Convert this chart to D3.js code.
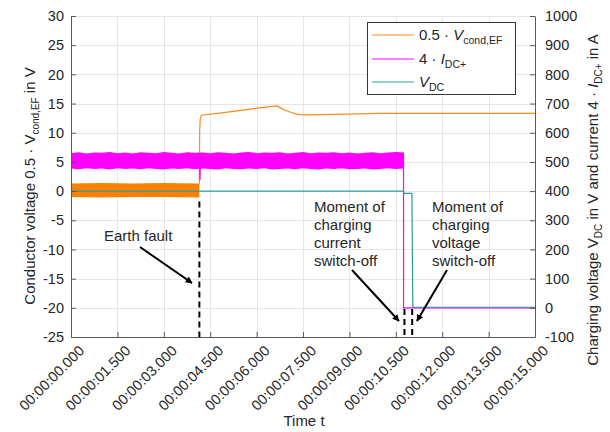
<!DOCTYPE html>
<html lang="en">
<head>
    <meta charset="UTF-8">
    <title>Earth fault</title>
    <script src="https://cdn.jsdelivr.net/npm/d3@7"></script>
    <style>
        body { margin: 0; background: #fff; }
        text { font-family: "Liberation Sans", Arial, sans-serif; fill: #262626; }
    </style>
</head>
<body>
<svg width="610" height="432"></svg>
<script>
    // ---- data ----
    var leftTicks = [30, 25, 20, 15, 10, 5, 0, -5, -10, -15, -20, -25];
    var rightTicks = [1000, 900, 800, 700, 600, 500, 400, 300, 200, 100, 0, -100];
    var xTicks = [0, 1.5, 3, 4.5, 6, 7.5, 9, 10.5, 12, 13.5, 15];
    var xTickLabels = ["00:00:00.000", "00:00:01.500", "00:00:03.000", "00:00:04.500", "00:00:06.000",
        "00:00:07.500", "00:00:09.000", "00:00:10.500", "00:00:12.000", "00:00:13.500", "00:00:15.000"];

    // 0.5*Vcond,EF noisy band before the fault (left axis, V)
    var orBandT = [0, 1, 2, 3, 4.15];
    var orBandHigh = [1.3, 1.4, 1.3, 1.4, 1.3];
    var orBandLow = [-1.0, -1.1, -1.0, -1.0, -1.1];
    // 0.5*Vcond,EF after the fault
    var orangeT = [4.15, 4.16, 4.18, 4.22, 5.0, 6.0, 6.66, 6.75, 6.9, 7.1, 7.3, 7.5, 8.5, 10, 15];
    var orangeV = [1.3, 10.4, 12.5, 13.0, 13.5, 14.2, 14.6, 14.3, 13.9, 13.5, 13.2, 13.05, 13.15, 13.3, 13.3];

    // 4*IDC+ noisy band (right axis, A), envelope every 0.25 s
    var magT = [0, 0.25, 0.5, 0.75, 1, 1.25, 1.5, 1.75, 2, 2.25, 2.5, 2.75, 3, 3.25, 3.5, 3.75,
        4, 4.25, 4.5, 4.75, 5, 5.25, 5.5, 5.75, 6, 6.25, 6.5, 6.75, 7, 7.25, 7.5, 7.75,
        8, 8.25, 8.5, 8.75, 9, 9.25, 9.5, 9.75, 10, 10.25, 10.5, 10.75];
    var magHigh = [530, 533, 529, 532, 531, 534, 530, 532, 529, 533, 531, 530, 534, 531, 529, 533,
        531, 532, 530, 533, 531, 529, 532, 534, 530, 532, 531, 533, 529, 531, 534, 530,
        532, 531, 533, 530, 532, 529, 531, 533, 530, 532, 534, 532];
    var magLow = [477, 475, 478, 476, 477, 474, 478, 476, 477, 475, 478, 476, 474, 477, 476, 478,
        475, 477, 476, 474, 478, 476, 475, 477, 476, 478, 474, 476, 477, 475, 478, 476,
        474, 477, 476, 478, 475, 476, 477, 474, 476, 478, 476, 477];
    var magSpikeT = [4.16, 4.17, 4.18];
    var magSpikeV = [478, 438, 478];
    var magDropT = [10.75, 10.75, 15];
    var magDropV = [532, 0, 0];

    // VDC (right axis, V)
    var tealT = [0, 10.75, 10.76, 11.02, 11.05, 15];
    var tealV = [400, 400, 392, 392, 2, 2];

    // dashed event markers
    var faultT = 4.15;
    var switchOffT = [10.78, 11.03];

    var svg = d3.select("svg");
    var margin = {left: 71, right: 535, top: 16, bottom: 337};

    var x = d3.scaleLinear().domain([0, 15]).range([margin.left, margin.right]);
    var yL = d3.scaleLinear().domain([-25, 30]).range([margin.bottom, margin.top]);
    var yR = d3.scaleLinear().domain([-100, 1000]).range([margin.bottom, margin.top]);

    var orange = "#ff8c1a", magenta = "#ff00ff", teal = "#2a9d9d";

    // grid
    var grid = svg.append("g").attr("stroke", "#e6e6e6").attr("stroke-width", 1);
    grid.selectAll(".h").data(leftTicks).enter().append("line")
        .attr("x1", margin.left).attr("x2", margin.right)
        .attr("y1", d => Math.round(yL(d)) + 0.5).attr("y2", d => Math.round(yL(d)) + 0.5);
    grid.selectAll(".v").data(xTicks).enter().append("line")
        .attr("y1", margin.top).attr("y2", margin.bottom)
        .attr("x1", d => Math.round(x(d)) + 0.5).attr("x2", d => Math.round(x(d)) + 0.5);

    // signals
    var plot = svg.append("g");
    var orArea = d3.area().x((d, i) => x(orBandT[i])).y0((d, i) => yL(orBandLow[i])).y1((d, i) => yL(orBandHigh[i]));
    plot.append("path").datum(orBandT).attr("d", orArea).attr("fill", "#ff8000");
    plot.append("path").datum(orangeT)
        .attr("d", d3.line().x((d, i) => x(orangeT[i])).y((d, i) => yL(orangeV[i])))
        .attr("fill", "none").attr("stroke", orange).attr("stroke-width", 1.2);

    var magArea = d3.area().x((d, i) => x(magT[i])).y0((d, i) => yR(magLow[i])).y1((d, i) => yR(magHigh[i]));
    plot.append("path").datum(magT).attr("d", magArea).attr("fill", magenta);
    plot.append("path").datum(magSpikeT)
        .attr("d", d3.line().x((d, i) => x(magSpikeT[i])).y((d, i) => yR(magSpikeV[i])))
        .attr("fill", "none").attr("stroke", magenta).attr("stroke-width", 1.2);
    plot.append("path").datum(magDropT)
        .attr("d", d3.line().x((d, i) => x(magDropT[i])).y((d, i) => yR(magDropV[i])))
        .attr("fill", "none").attr("stroke", magenta).attr("stroke-width", 1.2);

    plot.append("path").datum(tealT)
        .attr("d", d3.line().x((d, i) => x(tealT[i])).y((d, i) => yR(tealV[i])))
        .attr("fill", "none").attr("stroke", teal).attr("stroke-width", 1.2);

    // axes
    var axisColor = "#5a5a5a";
    var gL = svg.append("g").attr("transform", "translate(" + margin.left + ",0)")
        .call(d3.axisLeft(yL).tickValues(leftTicks).tickSizeInner(-5).tickSizeOuter(0).tickPadding(7).tickFormat(d => String(d)));
    var gR = svg.append("g").attr("transform", "translate(" + margin.right + ",0)")
        .call(d3.axisRight(yR).tickValues(rightTicks).tickSizeInner(-5).tickSizeOuter(0).tickPadding(10).tickFormat(d => String(d)));
    var gB = svg.append("g").attr("transform", "translate(0," + margin.bottom + ")")
        .call(d3.axisBottom(x).tickValues(xTicks).tickSizeInner(-5).tickSizeOuter(0).tickFormat((d, i) => xTickLabels[i]));
    [gL, gR, gB].forEach(function (g) {
        g.selectAll("path,line").attr("stroke", axisColor);
        g.selectAll("text").style("font-size", "14.5px").attr("fill", "#262626");
        g.attr("font-family", null).attr("font-size", null);
    });
    gB.selectAll("text")
        .attr("x", 0).attr("y", 0).attr("dy", "0.35em")
        .attr("text-anchor", "end")
        .attr("transform", "translate(10,11) rotate(-45)");

    // axis titles
    svg.append("text").attr("x", 304).attr("y", 426).attr("text-anchor", "middle")
        .style("font-size", "15px").text("Time t");

    var tl = svg.append("text").attr("transform", "translate(35,186) rotate(-90)")
        .attr("text-anchor", "middle").style("font-size", "15px");
    tl.append("tspan").text("Conductor voltage 0.5 · V");
    tl.append("tspan").attr("dy", 4).style("font-size", "10px").text("cond,EF");
    tl.append("tspan").attr("dy", -4).text(" in V");

    var tr = svg.append("text").attr("transform", "translate(598,200) rotate(-90)")
        .attr("text-anchor", "middle").style("font-size", "15px");
    tr.append("tspan").text("Charging voltage V");
    tr.append("tspan").attr("dy", 4).style("font-size", "10px").text("DC");
    tr.append("tspan").attr("dy", -4).text(" in V and current 4 · ");
    tr.append("tspan").style("font-style", "italic").text("I");
    tr.append("tspan").attr("dy", 4).style("font-size", "10px").text("DC+");
    tr.append("tspan").attr("dy", -4).text(" in A");

    // dashed markers
    var marks = svg.append("g").attr("stroke", "#000").attr("stroke-width", 2).attr("stroke-dasharray", "6,4");
    marks.append("line").attr("x1", x(faultT)).attr("x2", x(faultT)).attr("y1", yL(-1.8)).attr("y2", margin.bottom);
    marks.selectAll(".s").data(switchOffT).enter().append("line")
        .attr("x1", d => x(d)).attr("x2", d => x(d)).attr("y1", yL(-20.2)).attr("y2", margin.bottom);

    // annotations
    svg.append("defs").append("marker").attr("id", "arr").attr("viewBox", "0 0 10 10")
        .attr("refX", 9).attr("refY", 5).attr("markerWidth", 7).attr("markerHeight", 7)
        .attr("orient", "auto").attr("markerUnits", "userSpaceOnUse")
        .append("path").attr("d", "M0,0 L10,5 L0,10 z").attr("fill", "#000");
    function arrow(x1, y1, x2, y2) {
        svg.append("line").attr("x1", x1).attr("y1", y1).attr("x2", x2).attr("y2", y2)
            .attr("stroke", "#000").attr("stroke-width", 2).attr("marker-end", "url(#arr)");
    }
    svg.append("text").attr("x", 104).attr("y", 241).style("font-size", "15px").text("Earth fault");
    arrow(140, 247, 192, 283);

    function block(lines, x0, y0) {
        var t = svg.append("text").style("font-size", "15px");
        lines.forEach(function (s, i) {
            t.append("tspan").attr("x", x0).attr("y", y0 + i * 18).text(s);
        });
    }
    block(["Moment of", "charging", "current", "switch-off"], 314, 212);
    block(["Moment of", "charging", "voltage", "switch-off"], 432, 212);
    arrow(352, 270, 399, 321);
    arrow(447, 270, 417, 321);

    // legend
    var lg = svg.append("g");
    lg.append("rect").attr("x", 367.5).attr("y", 22.5).attr("width", 148).attr("height", 72)
        .attr("fill", "#fff").attr("stroke", "#333").attr("stroke-width", 1);
    var items = [
        {c: orange, y: 35, a: "0.5 · ", v: "V", s: "cond,EF"},
        {c: magenta, y: 59, a: "4 · ", v: "I", s: "DC+"},
        {c: teal, y: 82, a: "", v: "V", s: "DC"}
    ];
    items.forEach(function (it) {
        lg.append("line").attr("x1", 372).attr("x2", 414).attr("y1", it.y).attr("y2", it.y)
            .attr("stroke", it.c).attr("stroke-width", 1.2);
        var t = lg.append("text").attr("x", 419).attr("y", it.y + 5).style("font-size", "15px");
        if (it.a) t.append("tspan").text(it.a);
        t.append("tspan").style("font-style", "italic").text(it.v);
        t.append("tspan").attr("dy", 4).style("font-size", "10.5px").text(it.s);
    });
</script>
</body>
</html>
